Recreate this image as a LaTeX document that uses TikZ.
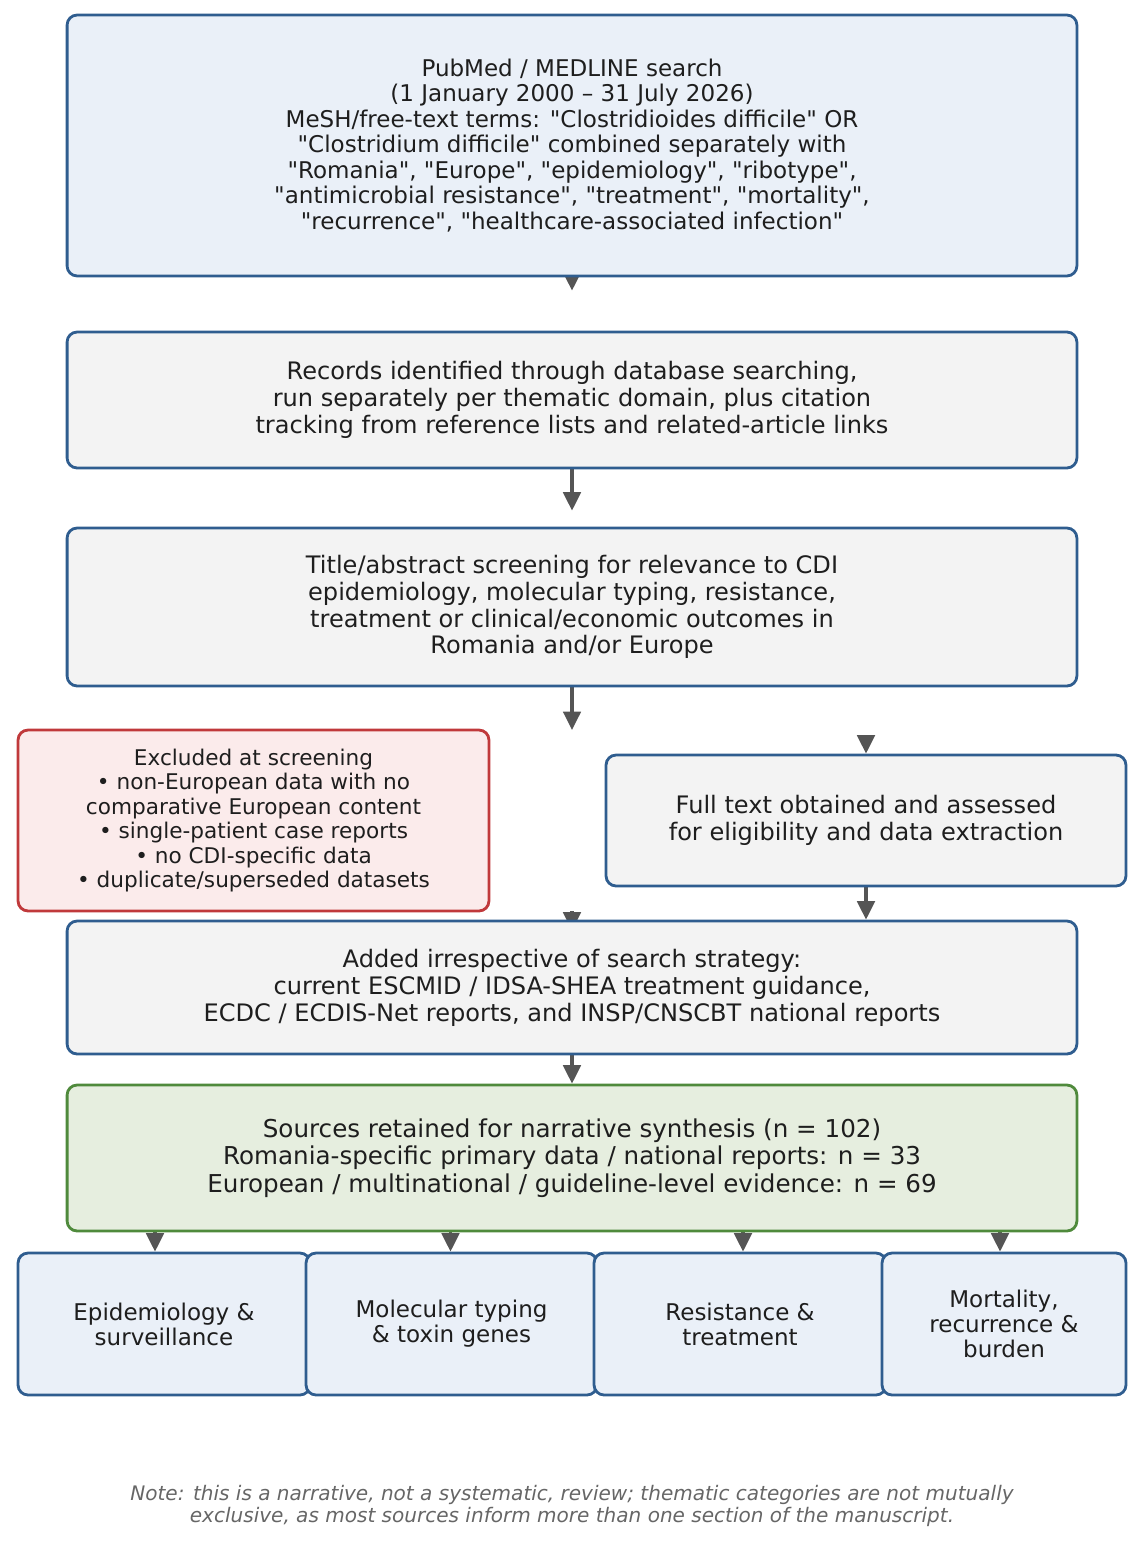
\documentclass[tikz,border=0pt]{standalone}
\usepackage{fontspec}
\setmainfont{DejaVu Sans}
\usetikzlibrary{arrows.meta,backgrounds,calc}

\definecolor{edgeblue}{HTML}{2F5D8F}
\definecolor{fillblue}{HTML}{EAF0F8}
\definecolor{fillgray}{HTML}{F3F3F3}
\definecolor{edgered}{HTML}{C0393B}
\definecolor{fillred}{HTML}{FBEBEB}
\definecolor{edgegreen}{HTML}{4F8A3C}
\definecolor{fillgreen}{HTML}{E6EEDF}
\definecolor{arrowgray}{HTML}{555555}
\definecolor{textdark}{HTML}{1E1E1E}
\definecolor{notegray}{HTML}{666666}

\newcommand{\dq}{\textquotedbl}

\tikzset{
  box/.style={draw=edgeblue, fill=fillgray, line width=1.6pt, rounded corners=0.2cm,
    align=center, inner sep=0pt, text=textdark,
    font=\fontsize{13.7}{15.3}\selectfont},
  catbox/.style={box, fill=fillblue, minimum height=2.84cm,
    font=\fontsize{13.1}{14.3}\selectfont},
  arr/.style={draw=arrowgray, line width=1.8pt, -{Triangle[width=10pt,length=10.5pt]}}
}

\begin{document}
\begin{tikzpicture}[x=0.02cm,y=-0.02cm]
\useasboundingbox (0,0) rectangle (1137,1544);
\node[box, fill=fillblue, minimum width=20.2cm, minimum height=5.22cm,
  font=\fontsize{13.1}{14.5}\selectfont] (search) at (572,145.5)
  {PubMed / MEDLINE search\\(1 January 2000 – 31 July 2026)\\
   MeSH/free-text terms: \dq Clostridioides difficile\dq{} OR\\
   \dq Clostridium difficile\dq{} combined separately with\\
   \dq Romania\dq, \dq Europe\dq, \dq epidemiology\dq, \dq ribotype\dq,\\
   \dq antimicrobial resistance\dq, \dq treatment\dq, \dq mortality\dq,\\
   \dq recurrence\dq, \dq healthcare-associated infection\dq};
\node[box, minimum width=20.2cm, minimum height=2.72cm] (records) at (572,400)
  {Records identified through database searching,\\
   run separately per thematic domain, plus citation\\
   tracking from reference lists and related-article links};
\node[box, minimum width=20.2cm, minimum height=3.16cm] (screen) at (572,607)
  {Title/abstract screening for relevance to CDI\\
   epidemiology, molecular typing, resistance,\\
   treatment or clinical/economic outcomes in\\
   Romania and/or Europe};
\node[box, draw=edgered, fill=fillred, minimum width=9.42cm, minimum height=3.62cm,
  font=\fontsize{12.3}{13.9}\selectfont] (excluded) at (253.5,820.5)
  {Excluded at screening\\
   • non-European data with no\\
   comparative European content\\
   • single-patient case reports\\
   • no CDI-specific data\\
   • duplicate/superseded datasets};
\node[box, minimum width=10.4cm, minimum height=2.62cm] (fulltext) at (866,820.5)
  {Full text obtained and assessed\\for eligibility and data extraction};
\node[box, minimum width=20.2cm, minimum height=2.66cm] (added) at (572,987.5)
  {Added irrespective of search strategy:\\
   current ESCMID / IDSA-SHEA treatment guidance,\\
   ECDC / ECDIS-Net reports, and INSP/CNSCBT national reports};
\node[box, draw=edgegreen, fill=fillgreen, minimum width=20.2cm, minimum height=2.92cm,
  font=\fontsize{14}{15.6}\selectfont] (sources) at (572,1158)
  {Sources retained for narrative synthesis (n = 102)\\
   Romania-specific primary data / national reports: n = 33\\
   European / multinational / guideline-level evidence: n = 69};
\node[catbox, minimum width=5.84cm] (epi) at (164,1324)
  {Epidemiology \&\\surveillance};
\node[catbox, minimum width=5.82cm] (typing) at (451.5,1324)
  {Molecular typing\\\& toxin genes};
\node[catbox, minimum width=5.84cm] (resist) at (740,1324)
  {Resistance \&\\treatment};
\node[catbox, minimum width=4.88cm] (burden) at (1004,1324)
  {Mortality,\\recurrence \&\\burden};
\node[align=center, text=notegray, font=\fontsize{11.4}{13}\selectfont\itshape] (note) at (572,1506)
  {Note: this is a narrative, not a systematic, review; thematic categories are not mutually\\
   exclusive, as most sources inform more than one section of the manuscript.};

\coordinate (split) at (572,730);
\coordinate (fullin) at (866,742);
\coordinate (addin) at (572,911);
\begin{pgfonlayer}{background}
\draw[arr, shorten >=0.8cm] (search) -- (records);
\draw[arr, shorten >=0.32cm] (records) -- (screen);
\draw[arr] (screen) -- (split);
\draw[arr] (fullin) -- (fulltext);
\draw[arr] (fulltext) -- (fulltext |- added.north);
\draw[arr, shorten >=-0.22cm] (addin) -- (added);
\draw[arr] (added) -- (sources);
\foreach \c/\dx in {epi/-9,typing/-1,resist/3,burden/-4}
  \draw[arr] ($(sources.south -| \c.north)+(\dx,0)$) -- ($(\c.north)+(\dx,0)$);
\end{pgfonlayer}
\end{tikzpicture}
\end{document}
